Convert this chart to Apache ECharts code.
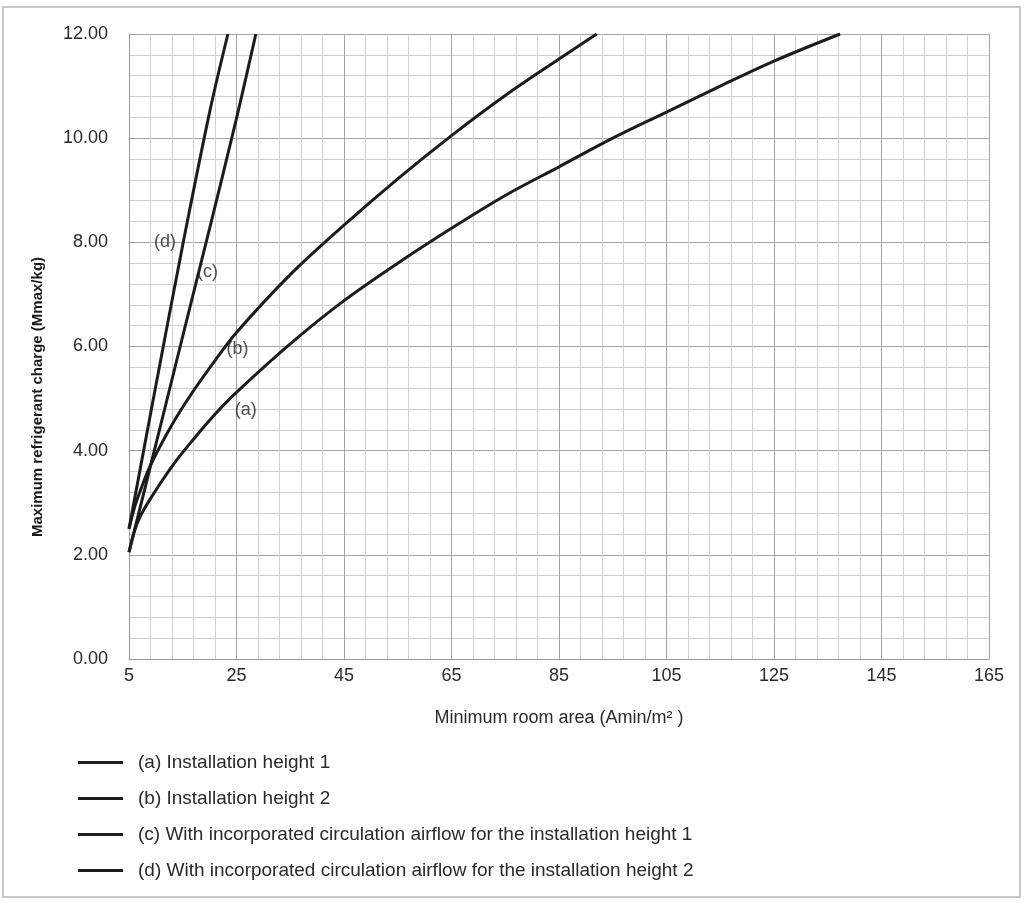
<!DOCTYPE html>
<html>
<head>
<meta charset="utf-8">
<script src="https://cdn.jsdelivr.net/npm/echarts@6/dist/echarts.min.js"></script>
<style>
  html, body { margin: 0; padding: 0; background: #fff; }
  #chart { width: 1031px; height: 904px; }
</style>
</head>
<body>
<div id="chart"></div>
<script>
// curve data (area m2 -> max charge kg)
const areaA = [5, 6, 7, 9, 13, 17, 21, 25, 35, 45, 55, 65, 75, 85, 95, 105, 115, 125, 137.3]
const chargeA = [2.05, 2.45, 2.72, 3.08, 3.7, 4.22, 4.7, 5.12, 6.05, 6.88, 7.6, 8.27, 8.9, 9.45, 10.0, 10.5, 11.0, 11.48, 12.0]
const areaB = [5, 6, 7, 9, 13, 17, 21, 25, 35, 45, 55, 65, 75, 85, 92]
const chargeB = [2.5, 2.9, 3.2, 3.72, 4.5, 5.15, 5.73, 6.27, 7.38, 8.33, 9.22, 10.05, 10.82, 11.52, 12.0]
const areaC = [5, 10, 15, 20, 25, 28.6]
const chargeC = [2.05, 4.12, 6.2, 8.27, 10.38, 12.0]
const areaD = [5, 10, 15, 20, 23.4]
const chargeD = [2.5, 5.25, 7.95, 10.5, 12.0]

const seriesNames = [
  '(a) Installation height 1',
  '(b) Installation height 2',
  '(c) With incorporated circulation airflow for the installation height 1',
  '(d) With incorporated circulation airflow for the installation height 2'
]
// in-plot curve tags
const tagText = ['(d)', '(c)', '(b)', '(a)']
const tagX = [11.7, 19.6, 25.2, 26.7]
const tagY = [8.0, 7.43, 5.95, 4.78]

const FONT = '"Liberation Sans", Arial, sans-serif'
const zip = (xs, ys) => xs.map((x, i) => [x, ys[i]])

const curve = (name, xs, ys) => ({
  name: name,
  type: 'line',
  data: zip(xs, ys),
  smooth: 0.35,
  showSymbol: false,
  lineStyle: { width: 3, color: '#1c1c1c' },
  itemStyle: { color: '#1c1c1c' },
  z: 3
})

var myChart = echarts.init(document.getElementById('chart'))
let option = {
  animation: false,
  backgroundColor: '#fff',
  color: ['#1c1c1c'],
  textStyle: { fontFamily: FONT },
  grid: { left: 129, top: 34, right: 42, bottom: 245 },
  legend: {
    data: seriesNames,
    orient: 'vertical',
    left: 73,
    top: 748,
    icon: 'rect',
    itemWidth: 45,
    itemHeight: 3,
    itemGap: 17,
    textStyle: { fontSize: 19, color: '#2a2a2a', fontFamily: FONT, padding: [0, 0, 0, 10] }
  },
  xAxis: {
    type: 'value',
    min: 5,
    max: 165,
    interval: 20,
    name: 'Minimum room area (Amin/m² )',
    nameLocation: 'middle',
    nameGap: 50,
    nameTextStyle: { fontSize: 18, color: '#2a2a2a', fontFamily: FONT },
    axisLine: { show: true, lineStyle: { color: '#999', width: 1 } },
    axisTick: { show: false },
    axisLabel: { fontSize: 18, color: '#2a2a2a', margin: 8, fontFamily: FONT },
    splitLine: { show: true, lineStyle: { color: '#a4a4a4', width: 1 } },
    minorTick: { show: false, splitNumber: 5 },
    minorSplitLine: { show: true, lineStyle: { color: '#d0d0d0', width: 1 } }
  },
  yAxis: {
    type: 'value',
    min: 0,
    max: 12,
    interval: 2,
    axisLine: { show: true, lineStyle: { color: '#999', width: 1 } },
    axisTick: { show: false },
    axisLabel: {
      fontSize: 18, color: '#2a2a2a', margin: 21, fontFamily: FONT,
      formatter: (v) => v.toFixed(2)
    },
    splitLine: { show: true, lineStyle: { color: '#a4a4a4', width: 1 } },
    minorTick: { show: false, splitNumber: 5 },
    minorSplitLine: { show: true, lineStyle: { color: '#d0d0d0', width: 1 } }
  },
  graphic: [
    {
      type: 'rect',
      shape: { x: 3, y: 7, width: 1017, height: 890 },
      style: { fill: 'none', stroke: '#c8c8c8', lineWidth: 2 },
      silent: true
    },
    {
      type: 'text',
      x: 38,
      y: 397,
      rotation: Math.PI / 2,
      style: {
        text: 'Maximum refrigerant charge (Mmax/kg)',
        font: 'bold 15px ' + FONT,
        fill: '#1a1a1a',
        align: 'center',
        verticalAlign: 'middle'
      }
    }
  ],
  series: [
    curve(seriesNames[0], areaA, chargeA),
    curve(seriesNames[1], areaB, chargeB),
    curve(seriesNames[2], areaC, chargeC),
    curve(seriesNames[3], areaD, chargeD),
    {
      name: 'tags',
      type: 'scatter',
      data: tagX.map((x, i) => ({ value: [x, tagY[i]], name: tagText[i] })),
      symbolSize: 0,
      silent: true,
      label: {
        show: true,
        position: 'inside',
        formatter: (p) => p.name,
        fontSize: 18,
        color: '#222',
        fontFamily: FONT
      },
      z: 4
    }
  ]
}
myChart.setOption(option)
</script>
</body>
</html>
